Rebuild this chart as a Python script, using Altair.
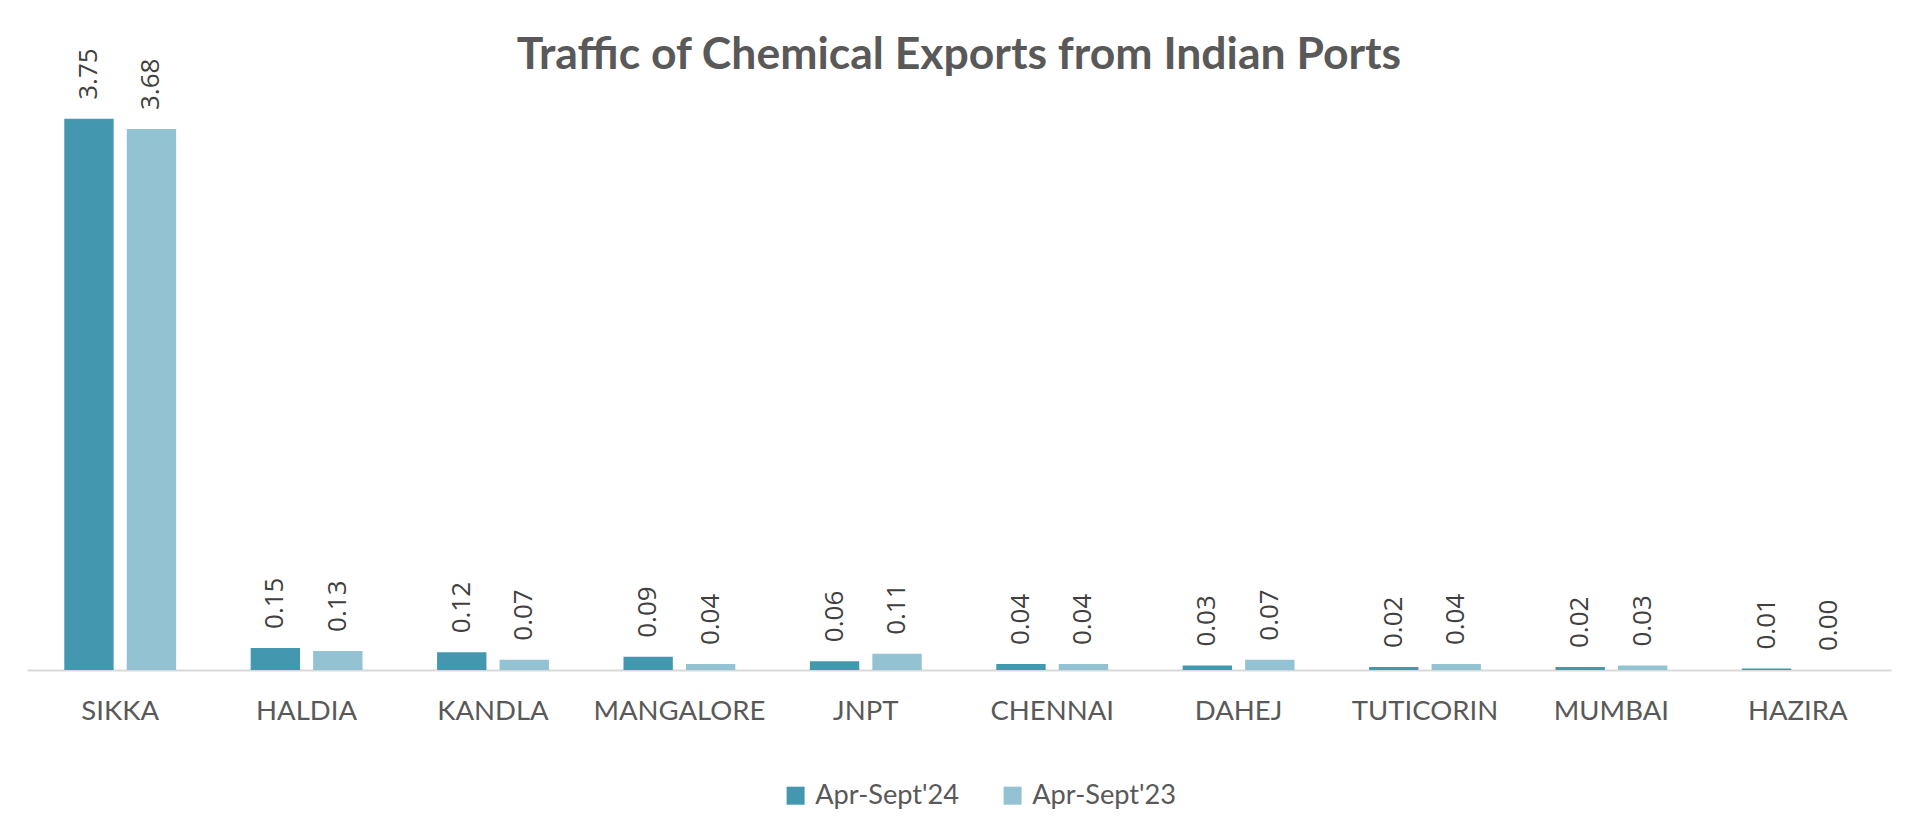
import altair as alt
import pandas as pd

ports = ["SIKKA", "HALDIA", "KANDLA", "MANGALORE", "JNPT", "CHENNAI", "DAHEJ", "TUTICORIN", "MUMBAI", "HAZIRA"]
series_names = ["Apr-Sept'24", "Apr-Sept'23"]
values_24 = [3.75, 0.15, 0.12, 0.09, 0.06, 0.04, 0.03, 0.02, 0.02, 0.01]
values_23 = [3.68, 0.13, 0.07, 0.04, 0.11, 0.04, 0.07, 0.04, 0.03, 0.00]
colors = ["#4397AE", "#93C2D3"]

rows = []
for p, a, b in zip(ports, values_24, values_23):
    rows.append({"port": p, "series": series_names[0], "value": a})
    rows.append({"port": p, "series": series_names[1], "value": b})
df = pd.DataFrame(rows)

x_enc = alt.X("port:N", sort=ports, title=None,
              scale=alt.Scale(paddingInner=0.4, paddingOuter=0.2),
              axis=alt.Axis(labelAngle=0, labelFont="Lato", labelFontSize=27.5,
                            labelColor="#595959", labelPadding=27, ticks=False,
                            domainColor="#D9D9D9", domainWidth=2, grid=False))
xo_enc = alt.XOffset("series:N", sort=series_names, scale=alt.Scale(paddingInner=0.21))
y_enc = alt.Y("value:Q", scale=alt.Scale(domain=[0, 4]), axis=None)

base = alt.Chart(df)

bars = base.mark_bar().encode(
    x=x_enc, xOffset=xo_enc, y=y_enc,
    color=alt.Color("series:N", sort=series_names,
                    scale=alt.Scale(domain=series_names, range=colors),
                    legend=alt.Legend(title=None, orient="none", legendX=755, legendY=700,
                                      direction="horizontal", symbolType="square",
                                      symbolSize=324, symbolStrokeWidth=0,
                                      labelFont="Lato", labelFontSize=27.2,
                                      labelColor="#595959", columnPadding=39,
                                      labelOffset=6))
)

labels = base.mark_text(angle=270, align="left", baseline="middle", dx=19,
                        font="Open Sans", fontSize=26, color="#404040").encode(
    x=x_enc, xOffset=xo_enc, y=y_enc,
    text=alt.Text("value:Q", format=".2f")
)

chart = alt.layer(bars, labels).properties(
    width=1864, height=588,
    title=alt.Title("Traffic of Chemical Exports from Indian Ports",
                    font="Lato", fontSize=44.5, fontWeight="bold", color="#595959",
                    anchor="middle", dy=34),
    autosize=alt.AutoSizeParams(type="none"),
    padding={"left": 19, "top": 74, "right": 20, "bottom": 145},
    background="white",
).configure_view(strokeWidth=0)

chart.save("out.html", embed_options={"renderer": "svg", "actions": False})
